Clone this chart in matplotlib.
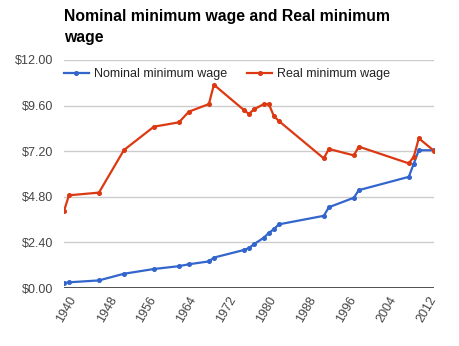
"""Line chart of nominal vs real US federal minimum wage."""

import matplotlib
matplotlib.use("Agg")
import matplotlib.pyplot as plt
from matplotlib.ticker import FuncFormatter

years = [1938, 1939, 1945, 1950, 1956, 1961, 1963, 1967, 1968, 1974, 1975,
         1976, 1978, 1979, 1980, 1981, 1990, 1991, 1996, 1997, 2007, 2008,
         2009, 2012]
nominal = [0.25, 0.30, 0.40, 0.75, 1.00, 1.15, 1.25, 1.40, 1.60, 2.00, 2.10,
           2.30, 2.65, 2.90, 3.10, 3.35, 3.80, 4.25, 4.75, 5.15, 5.85, 6.55,
           7.25, 7.25]
real = [4.04, 4.88, 5.02, 7.26, 8.49, 8.72, 9.28, 9.68, 10.70, 9.37, 9.16,
        9.40, 9.68, 9.68, 9.05, 8.79, 6.82, 7.32, 6.98, 7.44, 6.56, 6.91,
        7.88, 7.23]
y_ticks = [0.0, 2.4, 4.8, 7.2, 9.6, 12.0]
x_ticks = list(range(1940, 2013, 8))

plt.rcParams["font.family"] = ["Liberation Sans", "DejaVu Sans"]

fig = plt.figure(figsize=(4.6, 3.46), dpi=100)
ax = fig.add_axes([0.139, 0.1676, 0.804, 0.659])

ax.plot(years, nominal, color="#3366cc", lw=1.6, marker="o", ms=2.6,
        label="Nominal minimum wage", zorder=3)
ax.plot(years, real, color="#dc3912", lw=1.6, marker="o", ms=2.6,
        label="Real minimum wage", zorder=3)

ax.set_xlim(1938, 2012)
ax.set_ylim(0, 12)
ax.set_yticks(y_ticks)
ax.set_xticks(x_ticks)
ax.yaxis.set_major_formatter(FuncFormatter(lambda v, _: "${:.2f}".format(v)))
ax.grid(axis="y", color="#cccccc", lw=1)
ax.axhline(0, color="#333333", lw=1.2, zorder=2)
for side in ["top", "right", "left", "bottom"]:
    ax.spines[side].set_visible(False)
ax.tick_params(length=0, labelsize=9, colors="#444444")
ax.tick_params(axis="y", pad=8)
ax.tick_params(axis="x", pad=7)
for lbl in ax.get_xticklabels():
    lbl.set_rotation(60)
    lbl.set_ha("right")
    lbl.set_va("center")
    lbl.set_rotation_mode("anchor")

ax.legend(loc="upper left", bbox_to_anchor=(0.0, 0.965), ncol=2,
          frameon=False, fontsize=9, handlelength=2.0, handletextpad=0.4,
          columnspacing=1.6, labelcolor="#222222", borderpad=0,
          borderaxespad=0)

fig.text(0.139, 0.975, "Nominal minimum wage and Real minimum\nwage",
         fontsize=11.3, fontweight="bold", va="top", ha="left",
         linespacing=1.55)

fig.savefig("out.png", dpi=100)
